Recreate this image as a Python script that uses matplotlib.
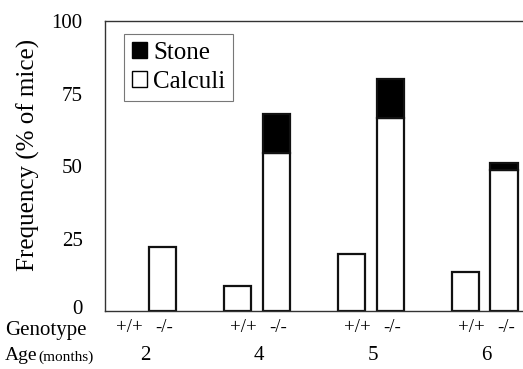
import matplotlib
matplotlib.use("Agg")
import matplotlib.pyplot as plt
from matplotlib.patches import Patch
from matplotlib.transforms import blended_transform_factory, ScaledTranslation

plt.rcParams['font.family'] = ['Liberation Serif', 'DejaVu Serif']

ages = ["2", "4", "5", "6"]
genotypes = ["+/+", "-/-"]
calculi_wt = [0, 8.5, 19.5, 13.3]
calculi_ko = [22, 54.5, 66.5, 48.5]
stone_wt = [0, 0, 0, 0]
stone_ko = [0, 13.5, 13.5, 2.5]
yticks = [0, 25, 50, 75, 100]

W, H = 523, 369
fig = plt.figure(figsize=(W/100, H/100), dpi=100)
ax = fig.add_axes([105/W, 1-311/H, 418/W, 290/H])

gsp = 2.95
wt_x = [i*gsp for i in range(len(ages))]
ko_x = [i*gsp + 1.0 for i in range(len(ages))]
bw = 0.71
ec = '#111111'
lw = 1.6

for x, c, s in zip(wt_x, calculi_wt, stone_wt):
    if c > 0:
        ax.bar(x, c, bw, color='white', edgecolor=ec, linewidth=lw)
    if s > 0:
        ax.bar(x, s, bw, bottom=c, color='black', edgecolor=ec, linewidth=lw)
for x, c, s in zip(ko_x, calculi_ko, stone_ko):
    ax.bar(x, c, bw, color='white', edgecolor=ec, linewidth=lw)
    if s > 0:
        ax.bar(x, s, bw, bottom=c, color='black', edgecolor=ec, linewidth=lw)

ax.set_xlim(-0.49, 10.34)
ax.set_ylim(0, 100)
ax.set_yticks(yticks)
ax.set_yticklabels([str(v) for v in yticks], fontsize=15)
ax.tick_params(axis='y', length=0, pad=16)
ax.set_xticks([])
for sp in ['left', 'top', 'bottom']:
    ax.spines[sp].set_color('#333333')
    ax.spines[sp].set_linewidth(1.0)
ax.spines['right'].set_visible(False)

# nudge the "0" label slightly upward, as in the reference
lbl0 = ax.get_yticklabels()[0]
lbl0.set_transform(lbl0.get_transform() + ScaledTranslation(0, 4/100, fig.dpi_scale_trans))

fig.text(28/W, 1-155/H, "Frequency (% of mice)", rotation=90, fontsize=18,
         ha='center', va='center')

leg = ax.legend(handles=[Patch(facecolor='black', edgecolor='black', label='Stone'),
                         Patch(facecolor='white', edgecolor='black', label='Calculi')],
                loc='upper left', bbox_to_anchor=(0.046, 0.955), fontsize=18,
                frameon=True, fancybox=False, handlelength=0.6, handleheight=0.6,
                handletextpad=0.25, borderpad=0.3, labelspacing=0.3, borderaxespad=0)
leg.get_frame().set_edgecolor('#555555')
leg.get_frame().set_linewidth(0.8)

tr = blended_transform_factory(ax.transData, fig.transFigure)
for xw, xk in zip(wt_x, ko_x):
    ax.text(xw + 0.15, 1-327/H, genotypes[0], transform=tr, fontsize=13.5,
            ha='center', va='center')
    ax.text(xk + 0.05, 1-327/H, genotypes[1], transform=tr, fontsize=13.5,
            ha='center', va='center')
for xw, xk, a in zip(wt_x, ko_x, ages):
    ax.text((xw + xk)/2 + 0.05, 1-355/H, a, transform=tr, fontsize=15,
            ha='center', va='center')

fig.text(5/W, 1-331/H, "Genotype", fontsize=15, ha='left', va='center')
fig.text(5/W, 1-356/H, "Age", fontsize=14, ha='left', va='center')
fig.text(38/W, 1-357/H, "(months)", fontsize=11, ha='left', va='center')

fig.savefig("out.png", dpi=100)
